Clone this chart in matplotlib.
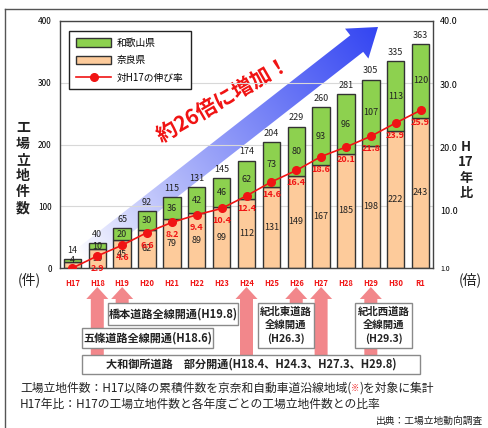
import numpy as np
import matplotlib
matplotlib.use("Agg")
import matplotlib.pyplot as plt
from matplotlib.patches import Polygon, Rectangle, FancyArrow
import matplotlib.patheffects as pe

plt.rcParams["font.family"] = ["Noto Sans CJK JP", "DejaVu Sans"]

# データ（累積件数）
years = ["H17", "H18", "H19", "H20", "H21", "H22", "H23", "H24",
         "H25", "H26", "H27", "H28", "H29", "H30", "R1"]
nara = [10, 30, 45, 62, 79, 89, 99, 112, 131, 149, 167, 185, 198, 222, 243]
wakayama = [4, 10, 20, 30, 36, 42, 46, 62, 73, 80, 93, 96, 107, 113, 120]
totals = [14, 40, 65, 92, 115, 131, 145, 174, 204, 229, 260, 281, 305, 335, 363]
ratio = [1.0, 2.9, 4.6, 6.6, 8.2, 9.4, 10.4, 12.4, 14.6, 16.4, 18.6, 20.1, 21.8, 23.9, 25.9]

GREEN = "#8DD14F"
ORANGE = "#FDCB9B"
RED = "#F01414"
PINK = "#F2878B"

W, H = 488, 428
fig = plt.figure(figsize=(W / 100, H / 100), dpi=100)

# 装飾用の全面軸（ピクセル座標）
deco = fig.add_axes([0, 0, 1, 1], zorder=0)
deco.set_xlim(0, W)
deco.set_ylim(H, 0)
deco.axis("off")

ax = fig.add_axes([60 / W, (H - 268) / H, 373 / W, 247 / H], zorder=1)
ax.patch.set_visible(False)
x = np.arange(len(years))

bn = ax.bar(x, nara, width=0.7, color=ORANGE, edgecolor="#333333", linewidth=1, label="奈良県")
bw = ax.bar(x, wakayama, width=0.7, bottom=nara, color=GREEN, edgecolor="#333333",
            linewidth=1, label="和歌山県")

for i in x:
    ax.text(i, totals[i] + 7, str(totals[i]), ha="center", va="bottom", fontsize=6.5, color="#222")
    ax.text(i, nara[i] + wakayama[i] / 2, str(wakayama[i]), ha="center", va="center",
            fontsize=6.5, color="#222")
    if nara[i] >= 20:
        ax.text(i, nara[i] / 2, str(nara[i]), ha="center", va="center", fontsize=6.5, color="#222")

ax.set_xlim(-0.5, len(years) - 0.5)
ax.set_ylim(0, 400)
ax.set_yticks([0, 100, 200, 300, 400])
ax.tick_params(axis="y", length=0, labelsize=6, pad=6)
ax.set_xticks(x, years)
ax.tick_params(axis="x", length=0, labelsize=5.5, pad=8, labelcolor=RED)
for lab in ax.get_xticklabels():
    lab.set_fontweight("bold")
ax.yaxis.grid(True, color="#d8d8d8", linewidth=0.8)
ax.set_axisbelow(True)
for sp in ax.spines.values():
    sp.set_color("#444444")
    sp.set_linewidth(1)

ax2 = ax.twinx()
ax2.set_zorder(2)
line, = ax2.plot(x, ratio, color=RED, marker="o", markersize=5.5, linewidth=1.2,
                 label="対H17の伸び率")
for i in x[1:]:
    ax2.annotate(f"{ratio[i]:.1f}", (i, ratio[i]), xytext=(0, -9), textcoords="offset points",
                 ha="center", va="center", fontsize=6.5, fontweight="bold", color=RED)
ax2.set_ylim(1, 40)
ax2.set_yticks([1, 10, 20, 30, 40], ["1.0", "10.0", "20.0", "30.0", "40.0"])
ax2.tick_params(axis="y", length=0, labelsize=6.5, pad=5)
ax2.get_yticklabels()[0].set_fontsize(5)
for sp in ax2.spines.values():
    sp.set_visible(False)

leg = ax2.legend(handles=[bw, bn, line], labels=["和歌山県", "奈良県", "対H17の伸び率"],
                 loc="upper left", bbox_to_anchor=(0.012, 0.978), fancybox=False,
                 edgecolor="#222222", framealpha=1, fontsize=7, handlelength=3.6,
                 handleheight=1.0, borderpad=0.7, labelspacing=0.75, handletextpad=0.6)
leg.get_frame().set_linewidth(1)

# 大きな矢印（グラデーション）
tail = np.array([82.0, 258.0])
tip = np.array([378.0, 27.0])
d = tip - tail
L = np.hypot(*d)
u = d / L
n = np.array([-u[1], -u[0]]) * -1
n = np.array([u[1], -u[0]]) * -1
hw, headw, headl = 10.5, 19.0, 27.0
base = tip - headl * u
poly = [tail + hw * n, base + hw * n, base + headw * n, tip,
        base - headw * n, base - hw * n, tail - hw * n]
arrow_patch = Polygon(poly, closed=True, facecolor="none", edgecolor="none",
                      transform=deco.transData)
deco.add_patch(arrow_patch)
xs = np.linspace(60, 400, 400)
ys = np.linspace(15, 275, 320)
X, Y = np.meshgrid(xs, ys)
t = np.clip(((X - tail[0]) * u[0] + (Y - tail[1]) * u[1]) / L, 0, 1) ** 0.85
c0 = np.array([1.0, 1.0, 1.0])
c1 = np.array([0.20, 0.27, 0.95])
img = c0[None, None, :] * (1 - t[..., None]) + c1[None, None, :] * t[..., None]
im = deco.imshow(img, extent=(60, 400, 275, 15), origin="upper", aspect="auto",
                 interpolation="bilinear")
im.set_clip_path(arrow_patch)
deco.set_xlim(0, W)
deco.set_ylim(H, 0)

deco.text(223, 100, "約26倍に増加！", rotation=30, ha="center", va="center", fontsize=15,
          fontweight="bold", color=RED, rotation_mode="anchor",
          path_effects=[pe.withStroke(linewidth=2, foreground="white")])

# 軸ラベル
deco.text(23, 168, "工\n場\n立\n地\n件\n数", ha="center", va="center", fontsize=10,
          fontweight="bold", linespacing=1.2, color="#222")
deco.text(29, 280, "(件)", ha="center", va="center", fontsize=10, color="#222")
deco.text(466, 170, "H\n17\n年\n比", ha="center", va="center", fontsize=9.5,
          fontweight="bold", linespacing=1.1, color="#222")
deco.text(470, 280, "(倍)", ha="center", va="center", fontsize=10, color="#222")

# 開通イベントの矢印と枠
def px(i):
    return ax.transData.transform((i, 0))[0]

events = [(1, 355), (2, 303), (7, 355), (9, 303), (10, 355), (12, 355)]
for idx, y0 in events:
    top = 287
    deco.add_patch(FancyArrow(px(idx), y0, 0, top - y0, width=13, head_width=22,
                              head_length=12, length_includes_head=True,
                              color=PINK, lw=0, zorder=2))

boxes = [
    (108, 303, 130, 22, "橋本道路全線開通(H19.8)", 8),
    (82, 328, 131, 20, "五條道路全線開通(H18.6)", 8),
    (82, 355, 338, 19, "大和御所道路　部分開通(H18.4、H24.3、H27.3、H29.8)", 8),
    (258, 303, 56, 45, "紀北東道路\n全線開通\n(H26.3)", 7.5),
    (355, 303, 57, 45, "紀北西道路\n全線開通\n(H29.3)", 7.5),
]
for bx, by, bwid, bh, txt, fs in boxes:
    deco.add_patch(Rectangle((bx, by), bwid, bh, facecolor="white", edgecolor="#8a8a8a",
                             linewidth=1, zorder=3))
    deco.text(bx + bwid / 2, by + bh / 2, txt, ha="center", va="center", fontsize=fs,
              fontweight="bold", color="#222", linespacing=1.35, zorder=4)

# 注記
renderer = fig.canvas.get_renderer()
segs = [("工場立地件数：H17以降の累積件数を京奈和自動車道沿線地域(", "#222"),
        ("※", RED), (")を対象に集計", "#222")]
xpos = 20
for s, col in segs:
    tt = deco.text(xpos, 388, s, ha="left", va="center", fontsize=8.5 if col != RED else 6,
                   color=col)
    bb = tt.get_window_extent(renderer)
    xpos = bb.x1
deco.text(20, 404, "H17年比：H17の工場立地件数と各年度ごとの工場立地件数との比率",
          ha="left", va="center", fontsize=8.5, color="#222")
deco.text(483, 421, "出典：工場立地動向調査", ha="right", va="center", fontsize=7, color="#222")

# 外枠
deco.plot([5, 5], [H, 9], color="#555555", linewidth=1)
deco.plot([5, W], [9, 9], color="#555555", linewidth=1)

fig.savefig("out.png", dpi=100)
